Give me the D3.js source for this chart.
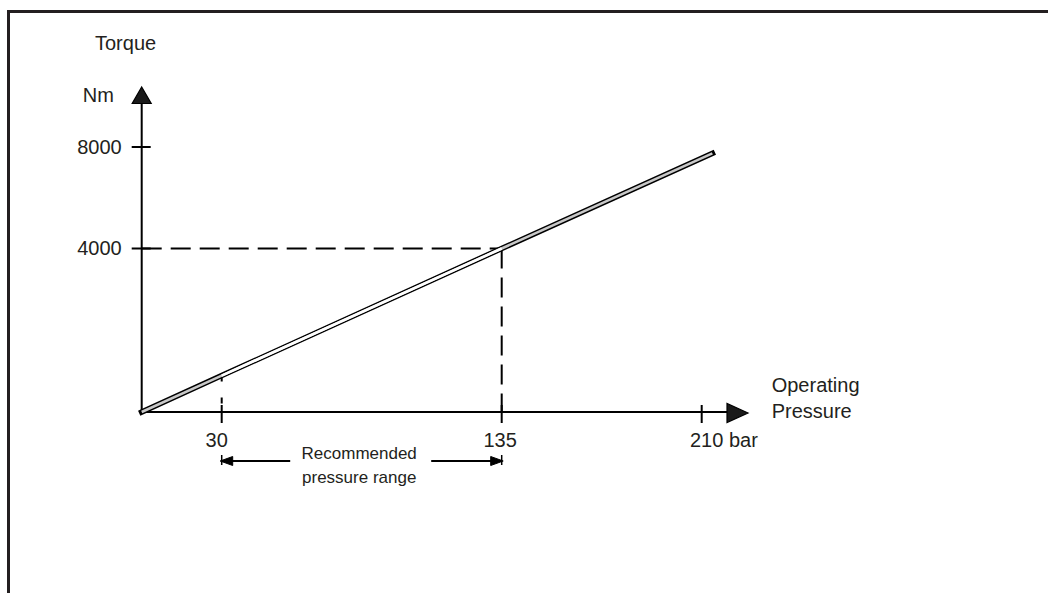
<!DOCTYPE html>
<html>
<head>
<meta charset="utf-8">
<script src="https://cdn.jsdelivr.net/npm/d3@7"></script>
<style>
  body { margin: 0; background: #fff; }
  text { font-family: Arial, 'Liberation Sans', sans-serif; fill: #231f20; }
</style>
</head>
<body>
<div id="chart"></div>
<script>
// data
const pressureTicks = [30, 135, 210];
const pressureTickLabels = ['30', '135', '210 bar'];
const torqueTicks = [4000, 8000];
const torqueTickLabels = ['4000', '8000'];
const linePressure = [0, 30, 135, 214];
const lineTorque = [0, 890, 4000, 7750];
const recommendedRange = [30, 135];
const guidePoint = { pressure: 135, torque: 4000 };

const width = 1048, height = 593;

const svg = d3.select('#chart')
  .append('svg')
  .attr('width', width)
  .attr('height', height);

// frame (top + left only)
svg.append('path')
  .attr('d', `M8.5,${height} V11.5 H${width}`)
  .attr('fill', 'none')
  .attr('stroke', '#231f20')
  .attr('stroke-width', 3);

const x = d3.scaleLinear().domain([0, 210]).range([141.7, 701.7]);
// the drawing's torque axis is not evenly spaced above 4000
const y = d3.scaleLinear().domain([0, 4000, 8000]).range([412, 248.5, 147]);

const x0 = x(0), y0 = y(0);

// axes
svg.append('line')
  .attr('x1', x0).attr('y1', y0).attr('x2', x0).attr('y2', 103)
  .attr('stroke', '#000').attr('stroke-width', 2);
svg.append('line')
  .attr('x1', x0).attr('y1', y0).attr('x2', 727).attr('y2', y0)
  .attr('stroke', '#000').attr('stroke-width', 2);

// arrowheads
svg.append('path')
  .attr('d', `M${x0},87 L${x0 + 9.5},103.5 L${x0 - 9.5},103.5 Z`)
  .attr('fill', '#1a1a1a').attr('stroke', '#000').attr('stroke-width', 1.2);
svg.append('path')
  .attr('d', `M748,${y0 + 1} L727,${y0 - 8.5} L727,${y0 + 10.5} Z`)
  .attr('fill', '#1a1a1a').attr('stroke', '#000').attr('stroke-width', 1.2);

// ticks
svg.selectAll('line.ytick')
  .data(torqueTicks)
  .join('line')
  .classed('ytick', true)
  .attr('x1', x0 - 10).attr('x2', x0 + 9)
  .attr('y1', d => y(d)).attr('y2', d => y(d))
  .attr('stroke', '#000').attr('stroke-width', 2);

svg.selectAll('text.ylab')
  .data(torqueTicks)
  .join('text')
  .classed('ylab', true)
  .attr('x', x0 - 20)
  .attr('y', d => y(d) + 6.5)
  .attr('text-anchor', 'end')
  .style('font-size', '20px')
  .text((d, i) => torqueTickLabels[i]);

svg.selectAll('line.xtick')
  .data(pressureTicks)
  .join('line')
  .classed('xtick', true)
  .attr('x1', d => x(d)).attr('x2', d => x(d))
  .attr('y1', y0 - 7).attr('y2', y0 + 11)
  .attr('stroke', '#000').attr('stroke-width', 2);

const xLabelOffset = [-5, -1.5, -11.7];
svg.selectAll('text.xlab')
  .data(pressureTicks)
  .join('text')
  .classed('xlab', true)
  .attr('x', (d, i) => x(d) + xLabelOffset[i])
  .attr('y', y0 + 35)
  .attr('text-anchor', (d, i) => i === pressureTicks.length - 1 ? 'start' : 'middle')
  .style('font-size', '20px')
  .text((d, i) => pressureTickLabels[i]);

// dashed guide lines
const dash = '20,9';
svg.append('line')
  .attr('x1', x0).attr('y1', y(guidePoint.torque))
  .attr('x2', x(guidePoint.pressure)).attr('y2', y(guidePoint.torque))
  .attr('stroke', '#000').attr('stroke-width', 2)
  .attr('stroke-dasharray', dash);
svg.append('line')
  .attr('x1', x(guidePoint.pressure)).attr('y1', y(guidePoint.torque))
  .attr('x2', x(guidePoint.pressure)).attr('y2', y0)
  .attr('stroke', '#000').attr('stroke-width', 2)
  .attr('stroke-dasharray', dash);
svg.append('line')
  .attr('x1', x(recommendedRange[0])).attr('y1', y(lineTorque[1]))
  .attr('x2', x(recommendedRange[0])).attr('y2', y0)
  .attr('stroke', '#000').attr('stroke-width', 2)
  .attr('stroke-dasharray', '6,16');

// torque line (double line)
const points = linePressure.map((p, i) => [x(p), y(lineTorque[i])]);
const line = d3.line();

svg.append('path')
  .attr('d', line(points))
  .attr('fill', 'none')
  .attr('stroke', '#000')
  .attr('stroke-width', 5.5)
  .attr('stroke-linecap', 'square');

svg.append('path')
  .attr('d', line(points))
  .attr('fill', 'none')
  .attr('stroke', '#c8c8c8')
  .attr('stroke-width', 2.6);

svg.append('path')
  .attr('d', line(points.slice(1, 3)))
  .attr('fill', 'none')
  .attr('stroke', '#fff')
  .attr('stroke-width', 2.6);

// axis titles
svg.append('text').attr('x', 95).attr('y', 50)
  .style('font-size', '20px').text('Torque');
svg.append('text').attr('x', 82.7).attr('y', 102)
  .style('font-size', '20px').text('Nm');
svg.append('text').attr('x', 771.7).attr('y', 392)
  .style('font-size', '20px').text('Operating');
svg.append('text').attr('x', 771.7).attr('y', 418)
  .style('font-size', '20px').text('Pressure');

// recommended pressure range annotation
const ay = 461;
const ax1 = x(recommendedRange[0]), ax2 = x(recommendedRange[1]);
const mid = (ax1 + ax2) / 2 - 2.5;

svg.append('line')
  .attr('x1', ax1).attr('y1', ay).attr('x2', mid - 69).attr('y2', ay)
  .attr('stroke', '#000').attr('stroke-width', 2);
svg.append('line')
  .attr('x1', mid + 72).attr('y1', ay).attr('x2', ax2).attr('y2', ay)
  .attr('stroke', '#000').attr('stroke-width', 2);

svg.append('path')
  .attr('d', `M${ax1 - 1.5},${ay} L${ax1 + 11},${ay - 4.5} L${ax1 + 11},${ay + 4.5} Z`)
  .attr('fill', '#000').attr('stroke', '#000').attr('stroke-width', 1);
svg.append('path')
  .attr('d', `M${ax2 + 1.5},${ay} L${ax2 - 11},${ay - 4.5} L${ax2 - 11},${ay + 4.5} Z`)
  .attr('fill', '#000').attr('stroke', '#000').attr('stroke-width', 1);

[ax1, ax2].forEach(px => {
  svg.append('line')
    .attr('x1', px).attr('y1', ay - 6).attr('x2', px).attr('y2', ay + 4)
    .attr('stroke', '#000').attr('stroke-width', 1.5);
});

svg.append('text').attr('x', mid).attr('y', 458.5)
  .attr('text-anchor', 'middle')
  .style('font-size', '17px').text('Recommended');
svg.append('text').attr('x', mid).attr('y', 483)
  .attr('text-anchor', 'middle')
  .style('font-size', '17px').text('pressure range');
</script>
</body>
</html>
